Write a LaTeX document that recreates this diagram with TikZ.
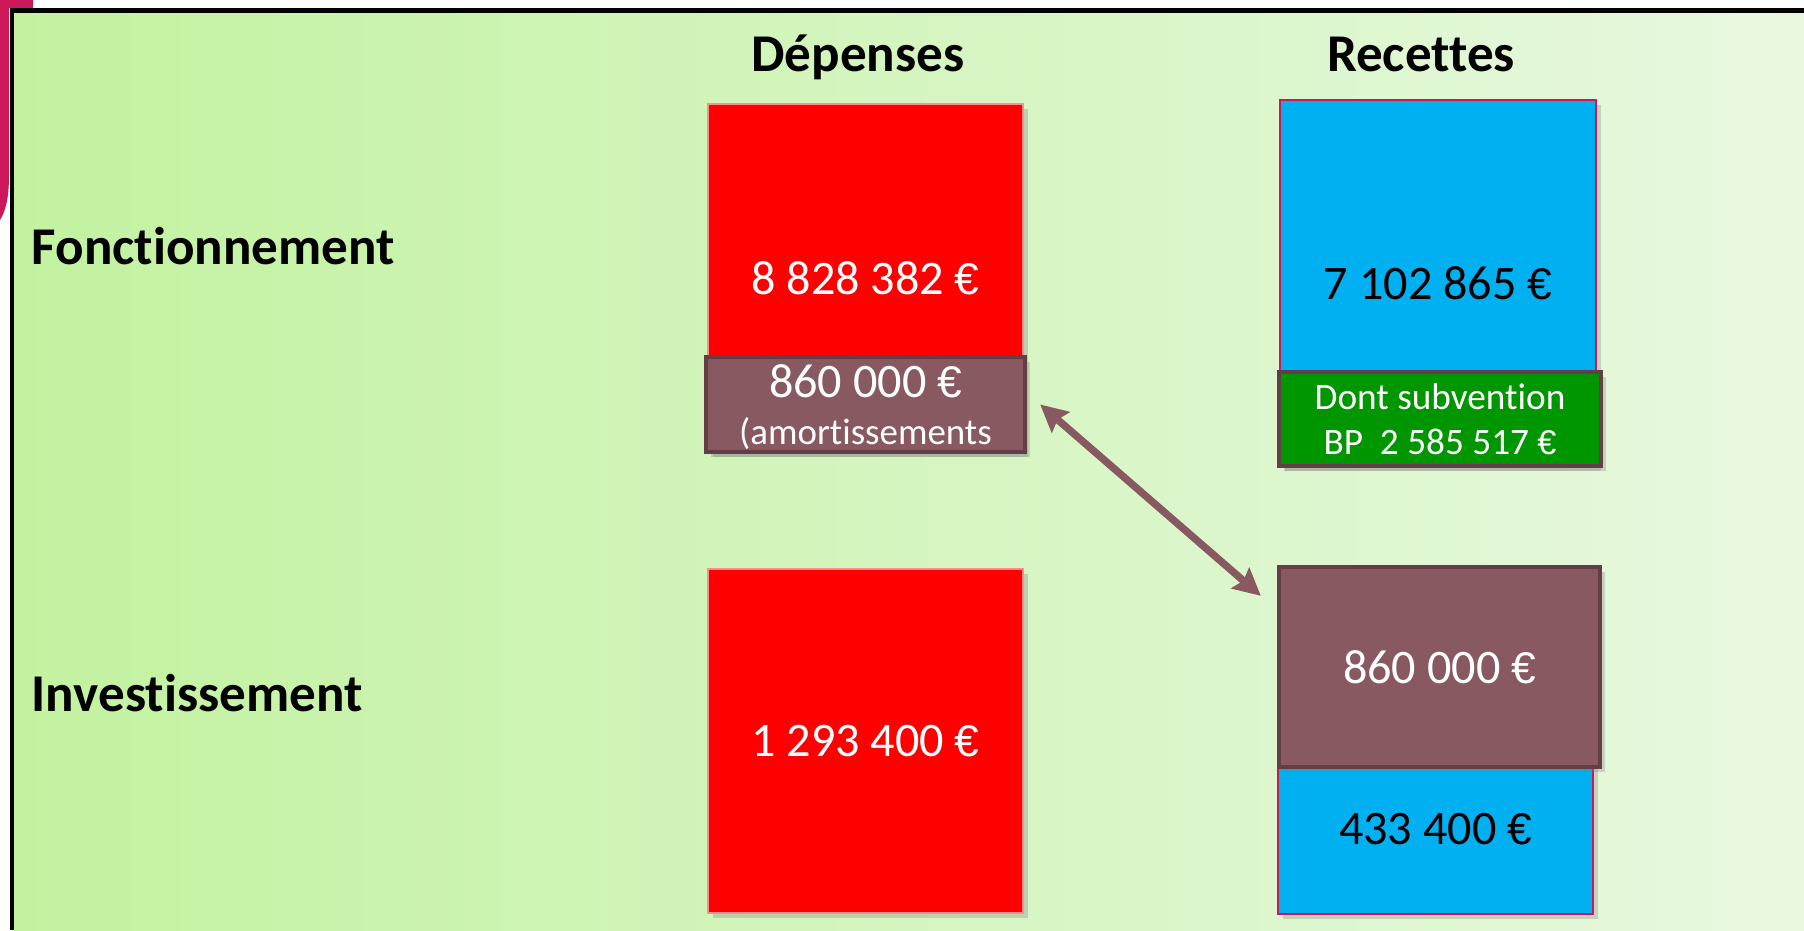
\documentclass[tikz,border=0pt]{standalone}
\usepackage{fontspec}
\setmainfont{Carlito}[Ligatures=NoCommon]
\newfontfamily\eurofont{Liberation Sans}[Scale=0.92]
\newcommand\eur{{\eurofont €}}
\usetikzlibrary{arrows.meta,calc,shadows}

\definecolor{bgleft}{RGB}{194,242,160}
\definecolor{bgright}{RGB}{232,248,224}
\definecolor{depred}{RGB}{255,0,0}
\definecolor{recblue}{RGB}{0,176,240}
\definecolor{subgreen}{RGB}{0,150,0}
\definecolor{amortfill}{RGB}{136,89,97}
\definecolor{amortline}{RGB}{99,62,70}
\definecolor{crimson}{RGB}{204,24,88}

\tikzset{
  title/.style={inner sep=0pt, anchor=base, font=\fontsize{15.1}{18}\selectfont\bfseries},
  amount/.style={inner sep=0pt, font=\fontsize{13.7}{16}\selectfont},
  shade box/.style={drop shadow={shadow xshift=1.5pt, shadow yshift=-1.5pt, opacity=0.3}},
  depbox/.style={amount, shade box, fill=depred, draw=red!45!white, line width=0.6pt, text=white},
  recbox/.style={amount, shade box, fill=recblue, draw=crimson, line width=0.6pt, text=black},
  brownbox/.style={amount, shade box, fill=amortfill, draw=amortline, line width=1.2pt, text=white},
  link/.style={draw=amortfill, line width=2.1pt,
    {Stealth[length=0.27cm,width=0.27cm,inset=0.04cm]}-{Stealth[length=0.27cm,width=0.27cm,inset=0.04cm]}}
}

\begin{document}
\begin{tikzpicture}[x=0.01cm,y=-0.01cm]
    \useasboundingbox (0,0) rectangle (1804,930);
    % background and frame
    \fill[crimson] (0,0) -- (33,0) -- (33,8) -- (9,8) -- (9,175) .. controls (9,200) and (5,212) .. (0,220) -- cycle;
    \shade[left color=bgleft, right color=bgright] (12,10) rectangle (1804,930);
    \draw[line width=1.3pt] (12,930) -- (12,10.5) -- (1804,10.5);

    % titles
    \node[title] (dep) at (858,71) {Dépenses};
    \node[title] (rec) at (1421,71) {Recettes};
    \node[title, anchor=base west] (fonc) at (31,264) {Fonctionnement};
    \node[title, anchor=base west] (inv) at (31,711) {Investissement};

    % fonctionnement
    \node[depbox, minimum width=3.15cm, minimum height=3.48cm] (depfonc) at (865.5,278) {8 828 382 \eur};
    \node[brownbox, minimum width=3.19cm, minimum height=0.95cm] (amort) at (865.5,404.5) {};
    \node[amount, text=white] (amortval) at (865.5,381.5) {860 000 \eur};
    \node[inner sep=0pt, anchor=base, text=white, font=\fontsize{10.5}{12}\selectfont] (amortnote) at (865.5,444) {(amortissements};
    \node[recbox, minimum width=3.16cm, minimum height=3.66cm] (recfonc) at (1438,283) {7 102 865 \eur};
    \node[brownbox, fill=subgreen, align=center, minimum width=3.22cm, minimum height=0.94cm,
      font=\fontsize{10.6}{12.8}\selectfont] (subv) at (1440,419) {Dont subvention\\BP\ \ 2 585 517 \eur};

    % investissement
    \node[depbox, minimum width=3.15cm, minimum height=3.44cm] (depinv) at (865.5,741) {1 293 400 \eur};
    \node[recbox, minimum width=3.15cm, minimum height=1.69cm] (recinv) at (1435.5,829.5) {433 400 \eur};
    \node[brownbox, minimum width=3.21cm, minimum height=2.0cm] (transfer) at (1439.5,667) {860 000 \eur};

    \coordinate (a1) at ($(amort.east)+(13,0)$);
    \coordinate (a2) at ($(transfer.north west)+(-16,31)$);
    \draw[link] (a1) -- (a2);
\end{tikzpicture}
\end{document}
